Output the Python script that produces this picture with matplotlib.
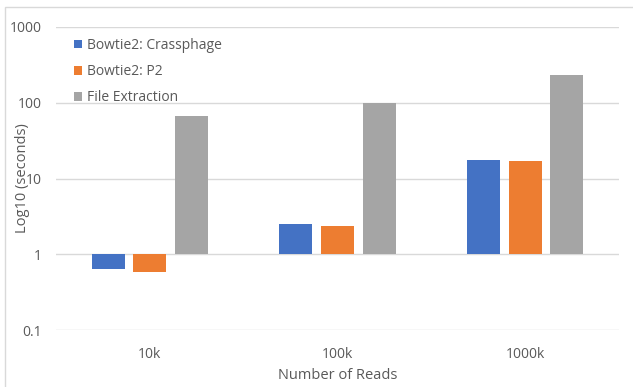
import matplotlib
matplotlib.use("Agg")
import matplotlib.pyplot as plt
from matplotlib.patches import Rectangle
import numpy as np

plt.rcParams['font.family'] = ['Open Sans', 'DejaVu Sans']

categories = ["10k", "100k", "1000k"]
series_names = ["Bowtie2: Crassphage", "Bowtie2: P2", "File Extraction"]
crassphage = [0.63, 2.49, 17.5]
p2 = [0.58, 2.37, 17.1]
file_extraction = [66.5, 98, 234]
colors = ["#4472C4", "#ED7D31", "#A5A5A5"]
y_ticks = [0.1, 1, 10, 100, 1000]
y_tick_labels = ["0.1", "1", "10", "100", "1000"]

fig = plt.figure(figsize=(6.33, 3.87), dpi=100)
ax = fig.add_axes([56 / 633, (387 - 330) / 387, (619 - 56) / 633, (330 - 27) / 387])

ax.set_yscale("log")
ax.set_ylim(0.1, 1000)
ax.set_xlim(-0.5, len(categories) - 0.5)

x = np.arange(len(categories))
width = 0.175
step = 0.222
base = 1.0
for i, (name, vals, c) in enumerate(zip(series_names, [crassphage, p2, file_extraction], colors)):
    vals = np.asarray(vals, dtype=float)
    ax.bar(x + (i - 1) * step, vals - base, bottom=base, width=width,
           color=c, label=name, zorder=3)

ax.set_yticks(y_ticks)
ax.set_yticklabels(y_tick_labels)
ax.yaxis.set_minor_locator(matplotlib.ticker.NullLocator())
ax.set_xticks(x)
ax.set_xticklabels(categories)
ax.tick_params(axis="both", length=0, labelsize=10, colors="#595959")
ax.tick_params(axis="x", pad=12)
ax.tick_params(axis="y", pad=10)
ax.grid(axis="y", color="#D9D9D9", linewidth=1, zorder=0)
for s in ax.spines.values():
    s.set_visible(False)

ax.set_xlabel("Number of Reads", fontsize=10.5, color="#595959")
ax.xaxis.set_label_coords(0.5, -0.125)
ax.set_ylabel("Log10 (seconds)", fontsize=10.5, color="#595959")
ax.yaxis.set_label_coords(-(56 - 30) / 563, 0.5)

leg = ax.legend(loc="upper left", bbox_to_anchor=(0.01, 1.005), frameon=False,
                fontsize=10, labelcolor="#595959", handlelength=0.6,
                handleheight=0.6, handletextpad=0.3, labelspacing=0.8)

fig.patches.append(Rectangle((5 / 633, -0.01), 1.0, (387 - 7) / 387 + 0.01,
                             transform=fig.transFigure, fill=False,
                             edgecolor="#D9D9D9", linewidth=1))

fig.savefig("out.png", dpi=100)
